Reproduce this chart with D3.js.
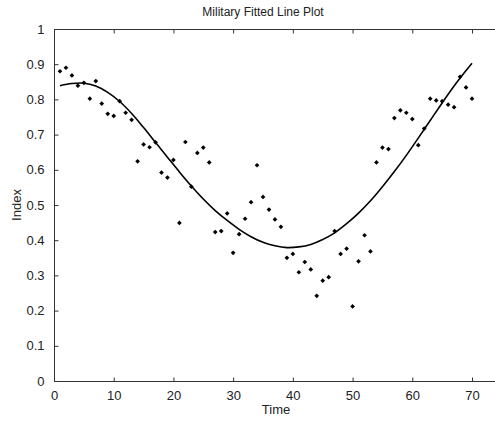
<!DOCTYPE html>
<html lang="en">
<head>
<meta charset="UTF-8">
<title>Military Fitted Line Plot</title>
<script src="https://d3js.org/d3.v7.min.js"></script>
<style>
    body { margin: 0; background: #fff; }
    svg text { font-family: "Liberation Sans", Arial, sans-serif; fill: #222; }
</style>
</head>
<body>
<svg width="495" height="421"></svg>

<script>
    // observed index, one reading per time step (t = 1..70)
    const times = d3.range(1, 71);
    const indexValues = [
        0.880, 0.890, 0.868, 0.839, 0.847, 0.802, 0.852, 0.788, 0.759, 0.753,
        0.795, 0.762, 0.742, 0.624, 0.672, 0.664, 0.678, 0.592, 0.578, 0.628,
        0.449, 0.679, 0.552, 0.648, 0.663, 0.621, 0.423, 0.426, 0.476, 0.364,
        0.417, 0.461, 0.508, 0.613, 0.523, 0.487, 0.459, 0.438, 0.350, 0.361,
        0.309, 0.338, 0.317, 0.242, 0.285, 0.295, 0.426, 0.361, 0.376, 0.212,
        0.340, 0.414, 0.368, 0.621, 0.663, 0.659, 0.747, 0.769, 0.762, 0.744,
        0.670, 0.717, 0.802, 0.797, 0.795, 0.785, 0.778, 0.864, 0.834, 0.802
    ];

    // fitted line
    const fitTimes = [1, 3, 5, 7, 9, 11, 13, 15, 17, 19, 21, 23, 25, 27, 29, 31, 33, 35, 37, 39,
                      41, 43, 45, 47, 49, 51, 53, 55, 57, 59, 61, 63, 65, 67, 69, 70];
    const fitValues = [0.839, 0.845, 0.846, 0.838, 0.820, 0.794, 0.760, 0.720, 0.678, 0.636,
                       0.594, 0.554, 0.517, 0.484, 0.456, 0.431, 0.410, 0.394, 0.384, 0.379,
                       0.381, 0.388, 0.402, 0.421, 0.447, 0.477, 0.512, 0.552, 0.595, 0.641,
                       0.690, 0.740, 0.790, 0.838, 0.882, 0.903];

    const xTicks = [0, 10, 20, 30, 40, 50, 60, 70];
    const yTicks = [0, 0.1, 0.2, 0.3, 0.4, 0.5, 0.6, 0.7, 0.8, 0.9, 1];

    var svg = d3.select("svg");
    var padLeft = 54, padTop = 29, padBottom = 381, padRight = 497;

    var x = d3.scaleLinear().domain([0, 70]).range([padLeft, 472]);
    var y = d3.scaleLinear().domain([0, 1]).range([padBottom, padTop]);

    // frame (right edge runs off the picture)
    svg.append("rect")
        .attr("x", padLeft + 0.5).attr("y", padTop + 0.5)
        .attr("width", padRight - padLeft).attr("height", padBottom - padTop)
        .attr("fill", "none").attr("stroke", "#333").attr("stroke-width", 1);

    // bottom axis, ticks pointing in
    svg.append("g")
        .attr("transform", "translate(0," + (padBottom + 0.5) + ")")
        .call(d3.axisBottom(x).tickValues(xTicks).tickSizeInner(-4).tickSizeOuter(0).tickPadding(9));
    // top ticks
    svg.append("g")
        .attr("transform", "translate(0," + (padTop + 0.5) + ")")
        .call(d3.axisTop(x).tickValues(xTicks).tickSizeInner(-4).tickSizeOuter(0).tickFormat(""));

    svg.append("g")
        .attr("transform", "translate(" + (padLeft + 0.5) + ",0)")
        .call(d3.axisLeft(y).tickValues(yTicks).tickSizeInner(-4).tickSizeOuter(0).tickPadding(10)
            .tickFormat(d => d3.format("~g")(d)));

    svg.selectAll(".domain").remove();
    svg.selectAll(".tick line").attr("stroke", "#333");
    svg.selectAll(".tick text").style("font-size", "13px").attr("fill", "#222");

    // fitted curve
    var line = d3.line()
        .x((d, i) => x(fitTimes[i]))
        .y(d => y(d))
        .curve(d3.curveCatmullRom);

    svg.append("path")
        .datum(fitValues)
        .attr("d", line)
        .attr("fill", "none")
        .attr("stroke", "#000")
        .attr("stroke-width", 1.6);

    // observed points
    svg.selectAll(".pt")
        .data(indexValues)
        .enter().append("path")
        .attr("class", "pt")
        .attr("transform", (d, i) => "translate(" + x(times[i]) + "," + y(d) + ")")
        .attr("d", d3.symbol().type(d3.symbolDiamond2).size(14))
        .attr("fill", "#000");

    // labels
    svg.append("text")
        .attr("x", 263).attr("y", 16)
        .attr("text-anchor", "middle")
        .style("font-size", "12px")
        .text("Military Fitted Line Plot");

    svg.append("text")
        .attr("x", 276).attr("y", 414)
        .attr("text-anchor", "middle")
        .style("font-size", "13px")
        .text("Time");

    svg.append("text")
        .attr("transform", "rotate(-90)")
        .attr("x", -205).attr("y", 21)
        .attr("text-anchor", "middle")
        .style("font-size", "13px")
        .text("Index");
</script>
</body>
</html>
